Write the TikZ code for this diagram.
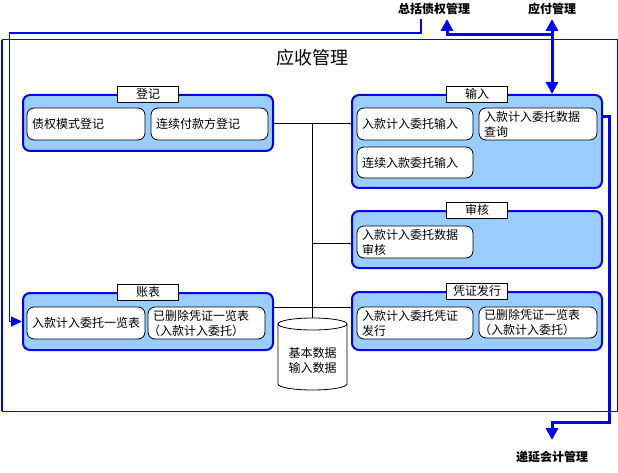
\documentclass[tikz,border=0pt]{standalone}
\usepackage{fontspec}
\newfontfamily\cjk{Noto Sans CJK SC}
\usetikzlibrary{arrows.meta}
\definecolor{grpblue}{HTML}{99CCFF}
\definecolor{lineblue}{HTML}{0000FF}
\begin{document}
\begin{tikzpicture}[x=1pt,y=-1pt,
  font=\cjk\fontsize{12}{15}\selectfont,
  grp/.style={draw=lineblue,line width=2pt,fill=grpblue,rounded corners=7pt,inner sep=0pt,minimum width=250pt},
  tab/.style={draw=black,line width=0.8pt,fill=white,minimum width=61pt,minimum height=16pt,inner sep=0pt},
  item/.style={draw=black,line width=0.8pt,fill=white,rounded corners=7pt,align=left,inner xsep=5pt,inner ysep=0pt,minimum height=32pt},
  blk/.style={draw=black,line width=0.8pt},
  bline/.style={draw=lineblue,line width=3pt},
  tip/.tip={Triangle[width=12pt,length=12pt]},
  smalltip/.tip={Triangle[width=10pt,length=11pt]},
  lbl/.style={font=\cjk\bfseries\fontsize{12}{14}\selectfont,inner sep=1pt}
]
\useasboundingbox (0,0) rectangle (618,473);

% outer frame
\draw[lineblue,line width=1pt] (2,40) rectangle (617,411);
\draw[lineblue,line width=2pt] (1.5,40) -- (1.5,411);

\node[font=\cjk\fontsize{18}{20}\selectfont] (title) at (312,58) {应收管理};

% external labels
\node[lbl] (zong) at (434,9) {总括债权管理};
\node[lbl] (yingfu) at (552,9) {应付管理};
\node[lbl] (diyan) at (552,457) {递延会计管理};

% groups
\node[grp,minimum height=56pt] (dj) at (148,123) {};
\node[grp,minimum height=93pt] (sr) at (477,141.5) {};
\node[grp,minimum height=57pt] (sh) at (477,239.5) {};
\node[grp,minimum height=58pt] (pz) at (477,321) {};
\node[grp,minimum height=57pt] (zb) at (148,321.5) {};

% tabs
\node[tab] (djt) at (dj.north) {登记};
\node[tab] (srt) at (sr.north) {输入};
\node[tab] (sht) at (sh.north) {审核};
\node[tab] (pzt) at (pz.north) {凭证发行};
\node[tab] (zbt) at (zb.north) {账表};

% items
\node[item,text width=108pt] (b1) at (86,124) {债权模式登记};
\node[item,text width=107pt] (b2) at (209.5,124) {连续付款方登记};
\node[item,text width=106pt] (c1) at (415,124) {入款计入委托输入};
\node[item,text width=108pt] (c2) at (538,124) {入款计入委托数据\\查询};
\node[item,text width=106pt,minimum height=31pt] (c3) at (415,162.5) {连续入款委托输入};
\node[item,text width=106pt] (d1) at (415,242) {入款计入委托数据\\审核};
\node[item,text width=106pt] (e1) at (415,323) {入款计入委托凭证\\发行};
\node[item,text width=108pt,minimum height=31pt] (e2) at (538,322.5) {已删除凭证一览表\\\hspace*{-5pt}（入款计入委托）};
\node[item,text width=108pt] (f1) at (86,323) {入款计入委托一览表};
\node[item,text width=107pt] (f2) at (206.5,323) {已删除凭证一览表\\\hspace*{-5pt}（入款计入委托）};

% black connectors
\coordinate (v1) at (312,123);
\coordinate (v2) at (312,243);
\coordinate (h3) at (273,307);
\coordinate (cyltop) at (312,318);
\draw[blk] (dj.east) -- (dj.east -| sr.west);
\draw[blk] (v1) -- (cyltop);
\draw[blk] (v2) -- (v2 -| sh.west);
\draw[blk] (h3) -- (h3 -| pz.west);

% cylinder
\draw[blk,fill=white] (278,324) -- (278,384) arc[start angle=180,end angle=360,x radius=34.5pt,y radius=6pt] -- (347,324) arc[start angle=0,end angle=180,x radius=34.5pt,y radius=6pt] -- cycle;
\draw[blk] (278,324) arc[start angle=180,end angle=360,x radius=34.5pt,y radius=6pt];
\node[align=center,inner sep=0pt] (cyl) at (312.5,360.5) {基本数据\\输入数据};

% blue connectors
\coordinate (zt) at (421,19);
\coordinate (zc) at (9,33);
\coordinate (zl) at (9,321.5);
\draw[bline,line width=2.5pt] (zt) |- (zc);
\draw[lineblue,line width=1pt,-smalltip] (zc) -- (zl) -- (zb.west);

\coordinate (yt) at (552,19);
\coordinate (yj) at (552,34.5);
\coordinate (zt2) at (447,19);
\draw[bline,tip-tip] (yt) -- (yt |- sr.north);
\draw[bline,-tip] (yj) -| (zt2);

\coordinate (s1) at (602,117);
\coordinate (s2) at (609,117);
\coordinate (s3) at (609,422);
\coordinate (s4) at (552,422);
\coordinate (dt) at (552,440);
\draw[bline,-tip] (s1) -- (s2) -- (s3) -- (s4) -- (dt);
\end{tikzpicture}
\end{document}
